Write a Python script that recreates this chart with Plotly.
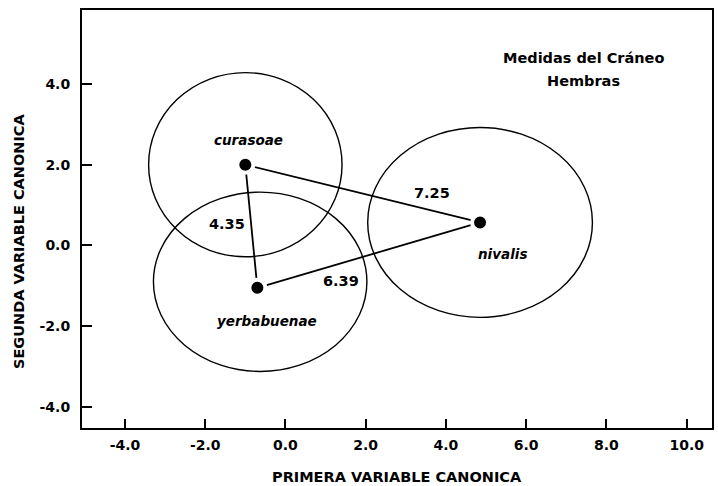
import plotly.graph_objects as go

# --- data ---
species = ["curasoae", "yerbabuenae", "nivalis"]
centroid_x = [-1.0, -0.7, 4.85]
centroid_y = [2.0, -1.05, 0.57]

# confidence regions (center and radii, canonical units)
ell_cx = [-1.0, -0.63, 4.85]
ell_cy = [2.0, -0.90, 0.57]
ell_rx = [2.41, 2.66, 2.80]
ell_ry = [2.28, 2.22, 2.35]

# species label positions
label_x = [-0.91, -0.46, 5.40]
label_y = [2.62, -1.86, -0.20]

# distances between centroids
dist_pairs = [(0, 1), (0, 2), (1, 2)]
dist_text = ["4.35", "7.25", "6.39"]
dist_x = [-1.45, 3.64, 1.38]
dist_y = [0.54, 1.31, -0.87]

title_lines = ["Medidas del Cráneo", "Hembras"]
title_x = [7.42, 7.42]
title_y = [4.65, 4.06]

x_ticks = [-4, -2, 0, 2, 4, 6, 8, 10]
x_tick_labels = ["-4.0", "-2.0", "0.0", "2.0", "4.0", "6.0", "8.0", "10.0"]
y_ticks = [-4, -2, 0, 2, 4]
y_tick_labels = ["-4.0", "-2.0", "0.0", "2.0", "4.0"]

FONT = "DejaVu Sans, sans-serif"

fig = go.Figure()

# connecting lines
for i, j in dist_pairs:
    fig.add_trace(go.Scatter(
        x=[centroid_x[i], centroid_x[j]], y=[centroid_y[i], centroid_y[j]],
        mode="lines", line=dict(color="black", width=1.8),
        hoverinfo="skip", showlegend=False))

# centroids
fig.add_trace(go.Scatter(
    x=centroid_x, y=centroid_y, mode="markers",
    marker=dict(color="black", size=16, line=dict(color="white", width=4)),
    showlegend=False))

# ellipses
for cx, cy, rx, ry in zip(ell_cx, ell_cy, ell_rx, ell_ry):
    fig.add_shape(type="circle", xref="x", yref="y",
                  x0=cx - rx, x1=cx + rx, y0=cy - ry, y1=cy + ry,
                  line=dict(color="black", width=1.4))

# species labels
for name, lx, ly in zip(species, label_x, label_y):
    fig.add_annotation(x=lx, y=ly, text=f"<b><i>{name}</i></b>", showarrow=False,
                       font=dict(family=FONT, size=13.5, color="black"))

# distance labels
for t, dx, dy in zip(dist_text, dist_x, dist_y):
    fig.add_annotation(x=dx, y=dy, text=f"<b>{t}</b>", showarrow=False,
                       font=dict(family=FONT, size=14.5, color="black"))

# title
for t, tx, ty in zip(title_lines, title_x, title_y):
    fig.add_annotation(x=tx, y=ty, text=f"<b>{t}</b>", showarrow=False,
                       font=dict(family=FONT, size=14.5, color="black"))

# axis titles
fig.add_annotation(xref="paper", yref="paper", x=0.5, y=-0.118, yanchor="middle",
                   text="<b>PRIMERA VARIABLE CANONICA</b>", showarrow=False,
                   font=dict(family=FONT, size=14.5, color="black"))
fig.add_annotation(xref="paper", yref="paper", x=-0.1, y=0.445, xanchor="center",
                   text="<b>SEGUNDA VARIABLE CANONICA</b>", showarrow=False, textangle=-90,
                   font=dict(family=FONT, size=14.5, color="black"))

axis_common = dict(showgrid=False, zeroline=False, showline=True, linecolor="black",
                   linewidth=2, mirror=True, ticks="inside", tickcolor="black",
                   tickwidth=1.5, tickfont=dict(family=FONT, size=14, color="black"))

fig.update_xaxes(range=[-5.07, 10.63], tickvals=x_ticks,
                 ticktext=[f"<b>{t}</b>" for t in x_tick_labels], ticklen=9,
                 ticklabelstandoff=3, **axis_common)
fig.update_yaxes(range=[-4.52, 5.83], tickvals=y_ticks,
                 ticktext=[f"<b>{t}</b>" for t in y_tick_labels], ticklen=10,
                 ticklabelstandoff=7, **axis_common)

fig.update_layout(width=718, height=486, plot_bgcolor="white", paper_bgcolor="white",
                  margin=dict(l=82, r=4, t=10, b=58), showlegend=False)

fig.write_html("out.html", config={"displayModeBar": False},
               post_script="document.body.style.margin='0';document.body.style.overflow='hidden';")
